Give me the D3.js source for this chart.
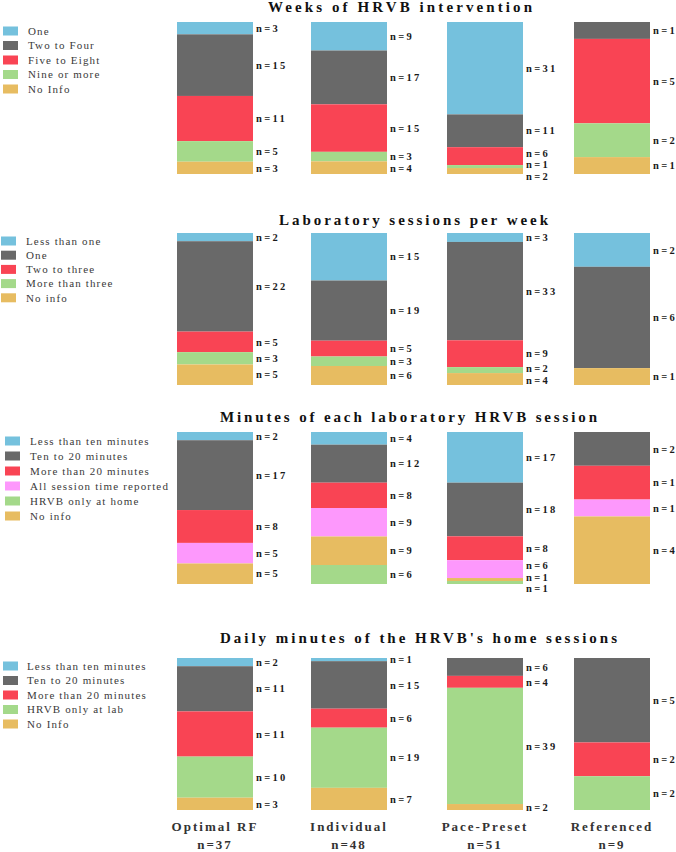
<!DOCTYPE html>
<html><head><meta charset="utf-8">
<script src="https://cdn.jsdelivr.net/npm/d3@7/dist/d3.min.js"></script>
<style>html,body{margin:0;padding:0;background:#fff;}svg{display:block;}</style>
</head><body>
<svg id="chart" width="676" height="852"></svg>
<script>
// ---------- DATA ----------
const groups = ["Optimal RF", "Individual", "Pace-Preset", "Referenced"];
const groupN = [37, 48, 51, 9];

const weeksTitle = "Weeks of HRVB intervention";
const weeksKeys = ["One", "Two to Four", "Five to Eight", "Nine or more", "No Info"];
const weeksValues = [[3, 15, 11, 5, 3], [9, 17, 15, 3, 4], [31, 11, 6, 1, 2], [0, 1, 5, 2, 1]];

const labTitle = "Laboratory sessions per week";
const labKeys = ["Less than one", "One", "Two to three", "More than three", "No info"];
const labValues = [[2, 22, 5, 3, 5], [15, 19, 5, 3, 6], [3, 33, 9, 2, 4], [2, 6, 0, 0, 1]];

const minTitle = "Minutes of each laboratory HRVB session";
const minKeys = ["Less than ten minutes", "Ten to 20 minutes", "More than 20 minutes", "All session time reported", "No info", "HRVB only at home"];
const minLegend = ["Less than ten minutes", "Ten to 20 minutes", "More than 20 minutes", "All session time reported", "HRVB only at home", "No info"];
const minValues = [[2, 17, 8, 5, 5, 0], [4, 12, 8, 9, 9, 6], [17, 18, 8, 6, 1, 1], [0, 2, 2, 1, 4, 0]];
const minLabels = [[2, 17, 8, 5, 5, 0], [4, 12, 8, 9, 9, 6], [17, 18, 8, 6, 1, 1], [0, 2, 1, 1, 4, 0]];

const homeTitle = "Daily minutes of the HRVB's home sessions";
const homeKeys = ["Less than ten minutes", "Ten to 20 minutes", "More than 20 minutes", "HRVB only at lab", "No Info"];
const homeValues = [[2, 11, 11, 10, 3], [1, 15, 6, 19, 7], [0, 6, 4, 39, 2], [0, 5, 2, 2, 0]];

// ---------- STYLE / LAYOUT ----------
const C = {blue: "#75c1dd", gray: "#696969", red: "#f94454", green: "#a4d98a", orange: "#e7bc61", pink: "#fd98fc"};
const weeksColors = [C.blue, C.gray, C.red, C.green, C.orange];
const labColors = [C.blue, C.gray, C.red, C.green, C.orange];
const minColors = [C.blue, C.gray, C.red, C.pink, C.orange, C.green];
const homeColors = [C.blue, C.gray, C.red, C.green, C.orange];

const panels = [
  {title: weeksTitle, keys: weeksKeys, legend: weeksKeys, values: weeksValues, labels: weeksValues, colors: weeksColors,
   top: 22, titleX: 268, titleY: 12, titleLen: 264, legX: 3, legText: 28, legY: 31, legStep: 14.5},
  {title: labTitle, keys: labKeys, legend: labKeys, values: labValues, labels: labValues, colors: labColors,
   top: 233, titleX: 279, titleY: 225, titleLen: 269, legX: 1, legText: 26, legY: 241, legStep: 14.2},
  {title: minTitle, keys: minKeys, legend: minLegend, values: minValues, labels: minLabels, colors: minColors,
   top: 432, titleX: 220, titleY: 422, titleLen: 377, legX: 5, legText: 30, legY: 441, legStep: 15},
  {title: homeTitle, keys: homeKeys, legend: homeKeys, values: homeValues, labels: homeValues, colors: homeColors,
   top: 658, titleX: 220, titleY: 643, titleLen: 397, legX: 3, legText: 27, legY: 666, legStep: 14.5}
];
const barH = 152, barW = 76;
const serif = "'Liberation Serif', 'Times New Roman', Times, Tinos, serif";

const svg = d3.select("#chart");
const x = d3.scaleOrdinal().domain(groups).range([177, 311, 447, 574]);

panels.forEach(p => {
  const g = svg.append("g");
  const colorOf = d3.scaleOrdinal().domain(p.keys).range(p.colors);
  // title
  g.append("text").attr("x", p.titleX).attr("y", p.titleY)
    .attr("textLength", p.titleLen).attr("lengthAdjust", "spacing")
    .style("font-family", serif).style("font-weight", "bold").style("font-size", "15px")
    .attr("fill", "#111").text(p.title);
  // legend
  const lg = g.append("g");
  p.legend.forEach((k, i) => {
    const cy = p.legY + i * p.legStep;
    lg.append("rect").attr("x", p.legX).attr("y", cy - 4.5).attr("width", 15).attr("height", 9).attr("fill", colorOf(k));
    lg.append("text").attr("x", p.legText).attr("y", cy).attr("dy", "0.35em")
      .style("font-family", serif).style("font-size", "11px").style("letter-spacing", "1.15px")
      .attr("fill", "#3a3a3a").text(k);
  });
  // stacked (normalized) bars
  const rows = groups.map((gname, gi) => {
    const o = {group: gname};
    p.keys.forEach((k, ki) => o[k] = p.values[gi][ki]);
    return o;
  });
  const series = d3.stack().keys(p.keys).offset(d3.stackOffsetExpand)(rows);
  const y = d3.scaleLinear().domain([0, 1]).range([p.top, p.top + barH]);
  series.forEach((s, ki) => {
    g.append("g").selectAll("rect").data(s.filter(d => d[1] - d[0] > 0)).join("rect")
      .attr("x", d => x(d.data.group)).attr("width", barW)
      .attr("y", d => y(d[0])).attr("height", d => y(d[1]) - y(d[0]))
      .attr("fill", colorOf(s.key));
  });
  // labels with collision avoidance
  groups.forEach((gname, gi) => {
    const items = [];
    series.forEach((s, ki) => {
      const d = s[gi];
      if (d[1] - d[0] > 0) items.push({c: (y(d[0]) + y(d[1])) / 2, t: "n=" + p.labels[gi][ki]});
    });
    const minGap = 11.5;
    let blocks = items.map(it => ({items: [it], c: it.c}));
    const pos = b => b.c - (b.items.length - 1) * minGap / 2;
    let changed = true;
    while (changed) {
      changed = false;
      for (let i = 0; i < blocks.length - 1; i++) {
        const a = blocks[i], b = blocks[i + 1];
        const aEnd = pos(a) + (a.items.length - 1) * minGap;
        if (pos(b) - aEnd < minGap) {
          const all = a.items.concat(b.items);
          const mean = d3.mean(all.map((it, j) => it.c - j * minGap)) + (all.length - 1) * minGap / 2;
          blocks.splice(i, 2, {items: all, c: mean});
          changed = true; break;
        }
      }
    }
    blocks.forEach(b => b.items.forEach((it, j) => it.y = pos(b) + j * minGap));
    g.append("g").selectAll("text").data(items).join("text")
      .attr("x", x(gname) + barW + 3).attr("y", d => d.y).attr("dy", "0.35em")
      .style("font-family", serif).style("font-weight", "bold").style("font-size", "10.5px")
      .style("letter-spacing", "2.3px").attr("fill", "#1a1a1a").text(d => d.t);
  });
});

// category labels
const cat = svg.append("g");
groups.forEach((gname, i) => {
  cat.append("text").attr("x", x(gname) + barW / 2).attr("y", 831).attr("text-anchor", "middle")
    .style("font-family", serif).style("font-weight", "bold").style("font-size", "13px")
    .style("letter-spacing", "2px").attr("fill", "#333").text(gname);
  cat.append("text").attr("x", x(gname) + barW / 2).attr("y", 849).attr("text-anchor", "middle")
    .style("font-family", serif).style("font-weight", "bold").style("font-size", "13px")
    .style("letter-spacing", "2px").attr("fill", "#333").text("n=" + groupN[i]);
});
</script>
</body></html>
